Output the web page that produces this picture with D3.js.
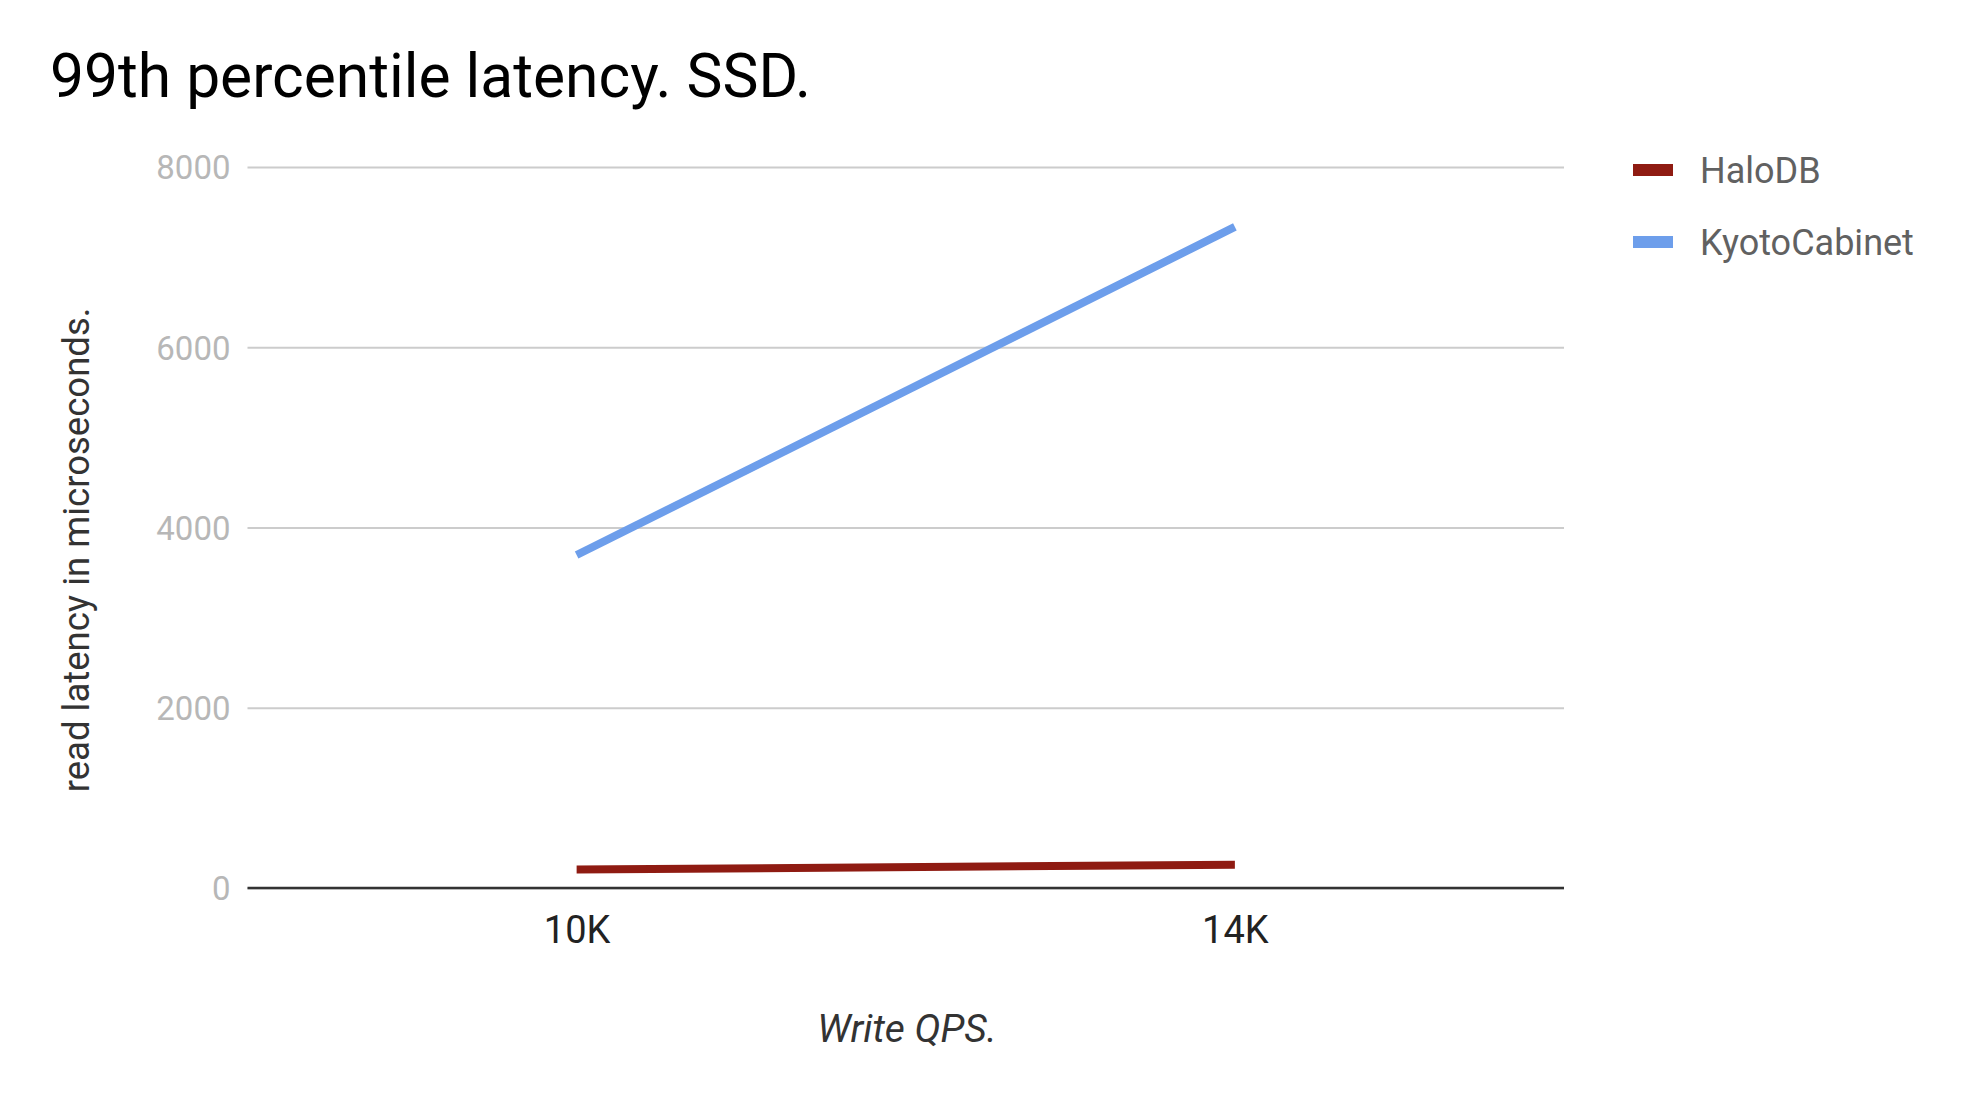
<!DOCTYPE html>
<html>
<head>
<meta charset="utf-8">
<script src="https://d3js.org/d3.v7.min.js"></script>
<style>
  body { margin: 0; background: #fff; }
  text { font-family: Roboto, "Noto Sans", sans-serif; }
</style>
</head>
<body>
<div id="chart"></div>
<script>
// data
var categories = ["10K", "14K"];
var seriesNames = ["HaloDB", "KyotoCabinet"];
var haloValues = [205, 258];
var kyotoValues = [3695, 7335];
var yTicks = [0, 2000, 4000, 6000, 8000];
var colors = ["#8f1b12", "#6d9eeb"];

var W = 1970, H = 1106;
var margin = {top: 167, left: 247.5, right: 406, bottom: 218};
var width = W - margin.left - margin.right,
    height = H - margin.top - margin.bottom;

var svg = d3.select("#chart").append("svg")
    .attr("width", W)
    .attr("height", H);

svg.append("text")
    .attr("x", 50)
    .attr("y", 97)
    .style("font-size", "60.5px")
    .style("fill", "#000")
    .text("99th percentile latency. SSD.");

var g = svg.append("g")
    .attr("transform", "translate(" + margin.left + "," + margin.top + ")");

var xScale = d3.scalePoint()
    .domain(categories)
    .range([0, width])
    .padding(0.5);

var yScale = d3.scaleLinear()
    .domain([0, 8000])
    .range([height, 0]);

// gridlines + y labels
var yAxis = d3.axisLeft(yScale)
    .tickValues(yTicks)
    .tickSize(-width)
    .tickPadding(17)
    .tickFormat(d3.format("d"));

var gY = g.append("g").call(yAxis);
gY.select(".domain").remove();
gY.selectAll(".tick line")
    .attr("stroke", "#cccccc")
    .attr("stroke-width", 2);
gY.selectAll(".tick text")
    .attr("fill", "#b7b7b7")
    .style("font-size", "33px")
    .attr("dy", "0.36em");

// baseline
g.append("line")
    .attr("x1", 0).attr("x2", width)
    .attr("y1", yScale(0)).attr("y2", yScale(0))
    .attr("stroke", "#333")
    .attr("stroke-width", 2.5);

// x labels
var xAxis = d3.axisBottom(xScale).tickSize(0).tickPadding(0);
var gX = g.append("g")
    .attr("transform", "translate(0," + height + ")")
    .call(xAxis);
gX.select(".domain").remove();
gX.selectAll(".tick text")
    .attr("fill", "#222")
    .attr("dy", 0)
    .attr("y", 55)
    .style("font-size", "38px");

// axis titles
svg.append("text")
    .attr("x", 907)
    .attr("y", 1042)
    .attr("text-anchor", "middle")
    .style("font-size", "39px")
    .style("font-style", "italic")
    .style("fill", "#333")
    .text("Write QPS.");

svg.append("text")
    .attr("transform", "translate(89,550) rotate(-90)")
    .attr("text-anchor", "middle")
    .style("font-size", "36.5px")
    .style("fill", "#333")
    .text("read latency in microseconds.");

// lines
var series = [
  categories.map(function(c, i) { return {x: c, y: haloValues[i]}; }),
  categories.map(function(c, i) { return {x: c, y: kyotoValues[i]}; })
];

var line = d3.line()
    .x(function(d) { return xScale(d.x); })
    .y(function(d) { return yScale(d.y); });

g.selectAll(".line")
    .data(series)
    .enter()
    .append("path")
    .attr("class", "line")
    .attr("fill", "none")
    .attr("stroke", function(d, i) { return colors[i]; })
    .attr("stroke-width", 8)
    .attr("d", line);

// legend
var legend = svg.selectAll(".legend")
    .data(seriesNames)
    .enter()
    .append("g")
    .attr("class", "legend")
    .attr("transform", function(d, i) { return "translate(1633," + (170 + i * 72) + ")"; });

legend.append("rect")
    .attr("x", 0).attr("y", -6)
    .attr("width", 40).attr("height", 12)
    .attr("fill", function(d, i) { return colors[i]; });

legend.append("text")
    .attr("x", 67)
    .attr("y", 0)
    .attr("dy", "0.36em")
    .style("font-size", "36px")
    .style("fill", "#616161")
    .text(function(d) { return d; });
</script>
</body>
</html>
